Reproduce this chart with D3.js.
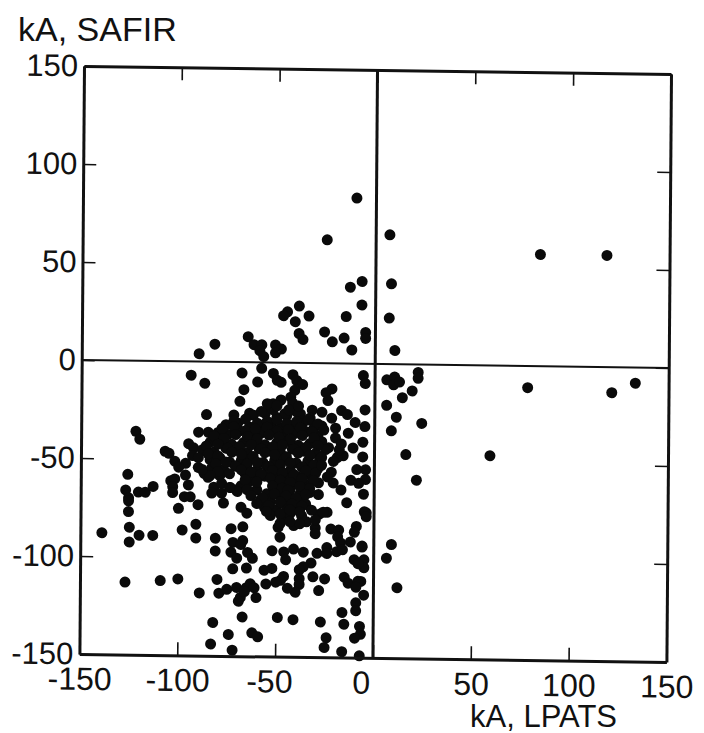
<!DOCTYPE html>
<html>
<head lang="en">
    <meta charset="UTF-8">
    <title></title>
    <script src="https://cdn.jsdelivr.net/npm/d3@7"></script>
    <style>
        body{margin:0;background:#fff;}
        text{font-family:"Liberation Sans",Arial,sans-serif;fill:#111;}
        .tick line{stroke:#111;stroke-width:1.6px;}
    </style>
</head>
<body>
<script>
    var xTicks=[-150,-100,-50,0,50,100,150];
    var yTicks=[-150,-100,-50,0,50,100,150];

    // isolated points
    var lpats=[-10,-25,7,8,-7,-13,-7,7,-15,-39,-45,-47,-34,-41,-39,-37,-26,-22,-16,-12,-5,-5,10,-90,-82,-65,-62,-58,-59,-57,-51,-48,-51,
        84,118,78,121,133,59,21.5,6,10,9.5,12.5,22,22,19,14,6,11,24,8.5,16,9,6.5,12,
        -6,-5,-5,-5,-6,-6,-4.5,-4.5,-5.5,-4,-6,-5,-5,-6.5,-5,
        -94,-87,-68,-67,-69,-86,-122,-120,-126,-127,-120.5,-117,-113,-107,-105,-102,-96.5,-100,-95,-92.5,-93,-90,-85,-96.5,-95,-104,-102,-103,-103,-97,-94,-125.5,-90,-87,-85,-82,-82,-78,-73.5,-70,
        -125.5,-125.5,-125,-125,-139,-120,-113,-100,-90,-98,-91,-91,-81,-81,-127,-109,-100,-89,-80,-79,-75,-70,-65,-68,-69,-82,-67,-74,-83,-72,-73,-72,-73,-70,-72,-65,-68,-65,-77,-67,-67,-68,-64.5,
        -35,-14,-28,-24,-5,-4,-34.5,-30,-30,-41,-48,-49,-22,-18,-18.5,-17,-9,-10,-12,-6,-52,-46,-41,-45,-36,-29,-24,-24,-19,-16,-10,-8,-32,-36,-38,-52,-56,-62,-31,-25,-15,-13,-8,-9,-28,-38,-38,-40,-44,-46,-47.5,-50,-55,-63,-61,-66,-60,-9,-9,-16,-49,-41,-27,-15,-7,-6.5,-9.5,-62,-59,-24,-25,-16,-7,
        -52,-50,-42,-40,-37,-41,-43,-60,-48,-58,-22,-25,-24,-27,-32,-17,-14,-52,-48,-42,-64,-72,-22,-10,-13.5,-20,-11,-16,-19,-23.5,-9,-22,-29,-28.5,-28.5,-21,-17,-12,-8,-26,-83,
        // dense core
        -62,-56,-50,-45,-38,-33,
        -76,-70,-64,-59,-53,-48,-43,-37,-31,-27,
        -80,-75,-69,-63,-58,-52,-47,-41,-35,-29,
        -84,-78,-73,-67,-61,-56,-50,-45,-39,-33,-27,
        -88,-82,-76,-71,-65,-59,-54,-48,-42,-36,-30,-25,
        -84,-79,-74,-68,-63,-57,-51,-46,-40,-34,-28,
        -83,-77,-71,-66,-60,-55,-49,-43,-37,-32,
        -79,-66,-62,-56,-50,-45,-39,-33,
        -78,-68,-64,-50,-46,-41,-35,
        -70,-60,-55,-48,-43,-38,-33,
        -58,-53,-47,-42,-36,
        -56,-50,-45,-40,-32,
        -53,-47,-43,-37,
        -58,-52,-46,-40,
        -72,-66,-60,-55,-50,-45,-40,-34,-29,
        -78,-72,-66,-61,-55,-50,-44,-38,-32,-26,
        -82,-77,-71,-65,-60,-54,-49,-43,-37,-31,
        -86,-80,-75,-69,-63,-58,-52,-47,-41,-35,-29,
        -85,-80,-73,-68,-62,-56,-51,-45,-39,-33,-27,
        -81,-76,-71,-65,-60,-54,-48,-43,-37,-31,
        -80,-74,-68,-63,-58,-52,-47,-41,-35,-30,
        -66,-60,-53,-48,-43,-37,-31,
        -74,-65,-52,-47,-44,-38,-33,
        -63,-57,-51,-45,-40,-35,
        -60,-54,-48,-42,-37,
        -55,-48,-43,-38,
        // edges of the core
        -20,-18,-21,-24,-27,-17,-30,-38,-48,-43,-90,-84,-88,-55,-50,-44,-39];
    var safir=[84.5,63,66,41,42,39,30,23.5,24,29,26,24,24,21,15,12,16,11,13,7,16,13,7,4,9,13,9,9,6,3,9,7,5,
        57,57,-11,-13,-8,-46,-59,-8,-6.5,-10.5,-9,-4,-7,-13.5,-17,-21,-27,-30,-34,-46,-92,-99,-114,
        -6,-10,-23.5,-32,-40,-47.5,-54,-59,-66.5,-76,-93.5,-100,-104,-111,-118,
        -7,-11,-5.5,-14,-20,-27,-36,-40,-58,-66,-67,-67,-64,-46,-47,-51,-52,-54,-42,-44,-48,-36,-36,-58,-63,-61,-60,-64,-67,-69,-69,-70,-54,-57,-59,-55,-64,-67,-64,-65,
        -71.5,-77,-85,-92.5,-88,-89,-89,-75,-73,-86,-83,-90,-90,-96.5,-113,-112,-111,-118,-111,-118,-116,-115,-115,-120,-122,-133,-130,-139,-144,-147,-85,-92,-97,-100,-105.5,-105,-74,-77,-72,-84,-91,-93,-97,
        -72,-71,-77,-76,-75.5,-78,-81,-84,-87,-83,-89,-84,-84.5,-85,-88.5,-91.5,-83,-86,-91,-93,-96,-96.5,-95,-100.5,-96.5,-97,-94,-97,-96,-95,-100,-102,-102,-104,-105.5,-105,-106,-100,-109,-110,-109,-112,-111,-114,-116,-110,-113,-117,-115,-109,-111,-112,-113,-113,-115,-117,-120,-122,-126,-127,-130,-131,-132,-133,-134,-138,-140,-138,-140,-140,-145,-147,-149,
        -5.5,-9,-6,-9,-11,-14,-17.5,-10,-10,-3,-13,-15,-19,-25,-24,-24,-26,-21,-19,-20.5,-26,-27,-28,-30,-35.5,-33,-43,-47,-48,-43,-54,-55.5,-54,-61,-67,-61,-64.5,-59.5,-61,-76,-67,
        // dense core
        -27,-26,-28,-27,-26,-28,
        -32,-31,-33,-32,-31,-33,-32,-31,-33,-32,
        -36,-37,-35,-37,-36,-35,-37,-36,-35,-37,
        -41,-40,-42,-41,-40,-42,-41,-40,-42,-41,-40,
        -45,-46,-44,-45,-46,-44,-45,-46,-44,-45,-46,-44,
        -50,-49,-51,-50,-49,-51,-50,-49,-51,-50,-49,
        -54,-55,-53,-54,-55,-53,-54,-55,-53,-54,
        -58,-57,-59,-58,-57,-59,-58,-57,
        -62,-63,-61,-62,-63,-61,-62,
        -66,-65,-67,-66,-65,-67,-66,
        -70,-71,-69,-70,-71,
        -74,-75,-73,-74,-75,
        -78,-79,-77,-78,
        -25,-24,-26,-25,
        -30,-29,-31,-30,-29,-31,-30,-29,-31,
        -34,-33,-35,-34,-33,-35,-34,-33,-35,-34,
        -38,-39,-37,-38,-39,-37,-38,-39,-37,-38,
        -43,-42,-44,-43,-42,-44,-43,-42,-44,-43,-42,
        -47,-48,-46,-47,-48,-46,-47,-48,-46,-47,-48,
        -52,-51,-53,-52,-51,-53,-52,-51,-53,-52,
        -56,-57,-55,-56,-57,-55,-56,-57,-55,-56,
        -60,-61,-59,-60,-61,-59,-60,
        -64,-65,-63,-64,-65,-63,-64,
        -68,-69,-67,-68,-69,-67,
        -72,-73,-71,-72,-73,
        -76,-77,-75,-76,
        // edges of the core
        -38,-44,-50,-58,-52,-41,-80,-82,-82,-81,-49,-58,-55,-21,-22,-24,-22];

    var _width=587,_height=588;
    var _x=d3.scaleLinear().domain([-150,150]).range([0,_width]);
    var _y=d3.scaleLinear().domain([-150,150]).range([_height,0]);
    // plain hyphen on the labels, as in the original
    var _label=function(d){return String(d);};

    var _svg=d3.select("body").append("svg")
            .attr("width",704)
            .attr("height",733);

    // the scan is a little crooked, so the whole plot is sheared
    var _plot=_svg.append("g")
            .attr("transform","matrix(1,0.0136,-0.0078,1,84,66)");

    _plot.selectAll("circle")
            .data(d3.range(lpats.length))
            .enter()
            .append("circle")
            .attr("cx",function(i){return _x(lpats[i]);})
            .attr("cy",function(i){return _y(safir[i]);})
            .attr("r",5.5)
            .style("fill","#0a0a0a");

    // zero lines
    _plot.append("line")
            .attr("x1",_x(0)).attr("x2",_x(0))
            .attr("y1",0).attr("y2",_height)
            .style("stroke","#111").style("stroke-width",3);
    _plot.append("line")
            .attr("x1",0).attr("x2",_width)
            .attr("y1",_y(0)).attr("y2",_y(0))
            .style("stroke","#111").style("stroke-width",2);

    // ticks on all four sides, labels only bottom and left
    var _bottom=_plot.append("g").attr("transform","translate(0,"+_height+")")
            .call(d3.axisBottom(_x).tickValues(xTicks).tickFormat(_label).tickSizeInner(-13).tickSizeOuter(0).tickPadding(13));
    _plot.append("g")
            .call(d3.axisTop(_x).tickValues(xTicks).tickSizeInner(-13).tickSizeOuter(0).tickFormat(""));
    var _left=_plot.append("g")
            .call(d3.axisLeft(_y).tickValues(yTicks).tickFormat(_label).tickSizeInner(-13).tickSizeOuter(0).tickPadding(6));
    _plot.append("g").attr("transform","translate("+_width+",0)")
            .call(d3.axisRight(_y).tickValues(yTicks).tickSizeInner(-13).tickSizeOuter(0).tickFormat(""));

    _plot.selectAll(".domain").style("stroke","#111").style("stroke-width",3);
    _plot.selectAll(".tick text").style("font-family",'"Liberation Sans",Arial,sans-serif').style("fill","#111");
    _left.selectAll(".tick text").style("font-size","31px");
    _bottom.selectAll(".tick text").style("font-size","32px");

    // the zero label sits off its tick in the original
    _bottom.selectAll(".tick text")
            .attr("dx",function(d){return d===0?-12:(d===-50?-6:0);})
            .attr("dy","0.71em");

    _svg.append("text").attr("x",18).attr("y",41).style("font-size","34px").text("kA, SAFIR");
    _svg.append("text").attr("x",470).attr("y",727).style("font-size","31px").text("kA, LPATS");
</script>
</body>
</html>
